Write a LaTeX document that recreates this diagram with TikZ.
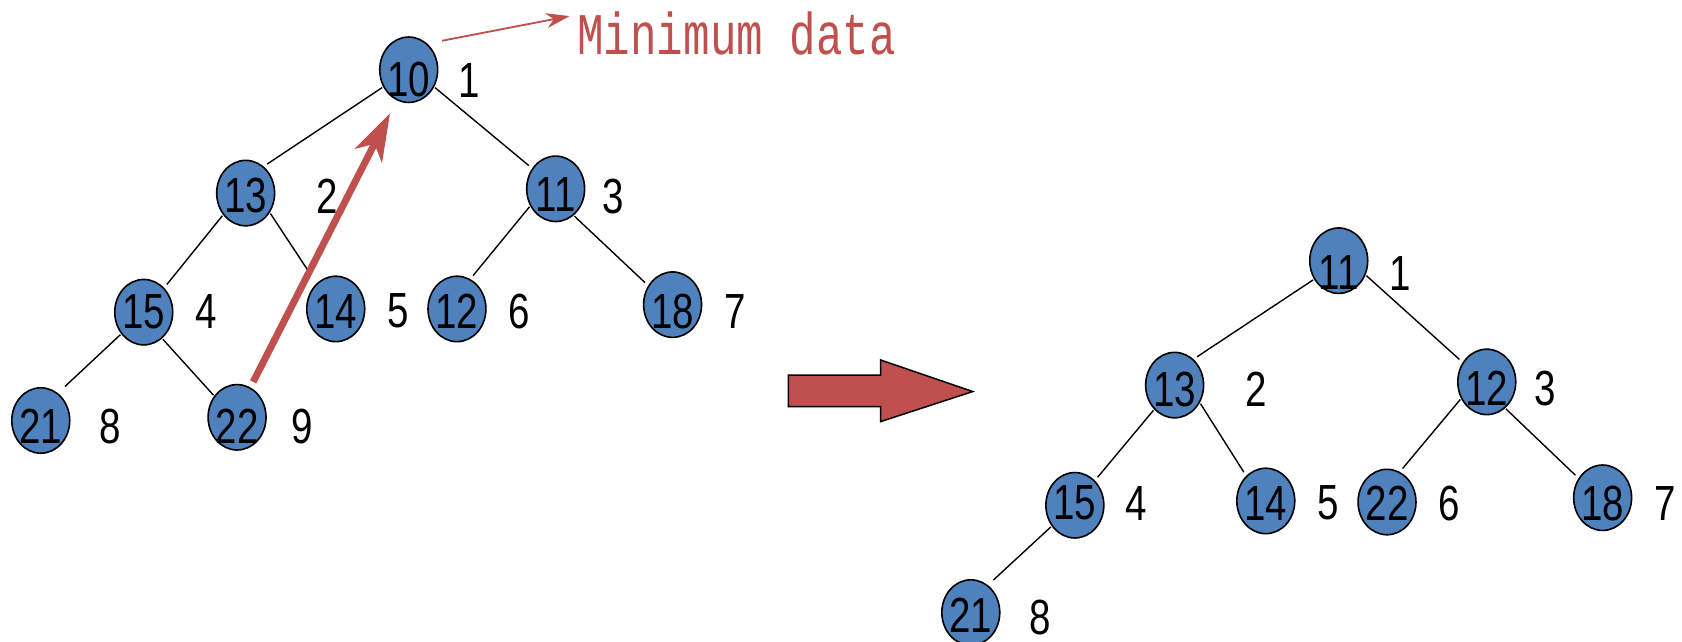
\documentclass[tikz,border=0pt]{standalone}
\usepackage{fontspec}
\usetikzlibrary{shapes.geometric,arrows.meta}
\newfontfamily\numfont[FakeStretch=0.78]{Liberation Sans}
\newfontfamily\minfont[FakeStretch=0.75]{Liberation Mono}
\definecolor{nodeblue}{HTML}{4F81BD}
\definecolor{arrowred}{HTML}{C0504D}
\newcommand{\heapnode}[5]{\node[heap,label={[num,yshift=-#5pt]center:#4}] (#1) at (#2,#3) {};}
\begin{document}
\begin{tikzpicture}[x=1pt,y=-1pt,
  heap/.style={ellipse,draw=black,line width=1.5pt,fill=nodeblue,minimum width=54pt,minimum height=61pt,inner sep=0pt},
  num/.style={font=\numfont\fontsize{46}{46}\selectfont,inner sep=0pt,text=black},
  edge/.style={draw=black,line width=1.3pt,shorten >=4pt,shorten <=1pt},
  redline/.style={draw=arrowred}
]
\useasboundingbox (0,0) rectangle (1568,598);
% left tree
\heapnode{l10}{381}{65}{10}{9}
\heapnode{l13}{229}{180}{13}{2}
\heapnode{l11}{518}{176}{11}{5}
\heapnode{l15}{134}{291}{15}{0}
\heapnode{l14}{313}{288}{14}{2}
\heapnode{l12}{426}{288}{12}{2}
\heapnode{l18}{627}{284}{18}{6}
\heapnode{l21}{38}{392}{21}{5}
\heapnode{l22}{221}{389}{22}{8}
\node[num] (li1) at (437.5,75) {1};
\node[num] (li2) at (305,183) {2};
\node[num] (li3) at (572,183) {3};
\node[num] (li4) at (192,290) {4};
\node[num] (li5) at (371,290) {5};
\node[num] (li6) at (483.6,290) {6};
\node[num] (li7) at (685,290) {7};
\node[num] (li8) at (103,398) {8};
\node[num] (li9) at (282,398) {9};
\draw[edge] (l10.214) -- (l13.56);
\draw[edge] (l10.326) -- (l11.139);
\draw[edge] (l13.224) -- (l15.50);
\draw[edge,shorten >=14pt] (l13.321) -- (l14.127);
\draw[edge] (l11.214) -- (l12.66);
\draw[edge] (l11.304) -- (l18.142);
\draw[edge,shorten >=9pt] (l15.224) -- (l21.58);
\draw[edge,shorten >=1pt] (l15.305) -- (l22.137);
% right tree
\heapnode{r11}{1248}{243}{11}{11}
\heapnode{r13}{1095}{359}{13}{4}
\heapnode{r12}{1386}{356}{12}{6}
\heapnode{r15}{1002}{471}{15}{-2}
\heapnode{r14}{1180}{467}{14}{2}
\heapnode{r22}{1293}{468}{22}{1}
\heapnode{r18}{1494}{464}{18}{5}
\heapnode{r21}{905}{571}{21}{3}
\node[num] (ri1) at (1305,255) {1};
\node[num] (ri2) at (1171,363) {2};
\node[num] (ri3) at (1440,362) {3};
\node[num] (ri4) at (1059,469) {4};
\node[num] (ri5) at (1238,469) {5};
\node[num] (ri6) at (1351,469) {6};
\node[num] (ri7) at (1552,469) {7};
\node[num] (ri8) at (970,576) {8};
\draw[edge] (r11.217) -- (r13.54);
\draw[edge] (r11.332) -- (r12.141);
\draw[edge] (r13.230) -- (r15.51);
\draw[edge] (r13.325) -- (r14.128);
\draw[edge] (r12.213) -- (r22.67);
\draw[edge] (r12.305) -- (r18.141);
\draw[edge,shorten >=7pt] (r15.222) -- (r21.58);
% block arrow
\draw[fill=arrowred,draw=black,line width=1.4pt]
  (735,349.6) -- (821,349.6) -- (821,335.6) -- (906.8,365) -- (821,393) -- (821,379) -- (735,379) -- cycle;
% red arrows
\coordinate (rt) at (236,356);
\coordinate (rh) at (363.6,105.6);
\draw[redline,line width=6.5pt,-{Stealth[length=44pt,width=28pt,inset=12pt]}] (rt) -- (rh);
\node[anchor=west,text=arrowred,font=\minfont\fontsize{55}{55}\selectfont,inner sep=0pt] (mindata) at (538,31) {Minimum data};
\coordinate (mt) at (412,38);
\coordinate (mh) at (531,15);
\draw[redline,line width=1.7pt,-{Stealth[length=22pt,width=14pt,inset=7pt]}] (mt) -- (mh);
\end{tikzpicture}
\end{document}
